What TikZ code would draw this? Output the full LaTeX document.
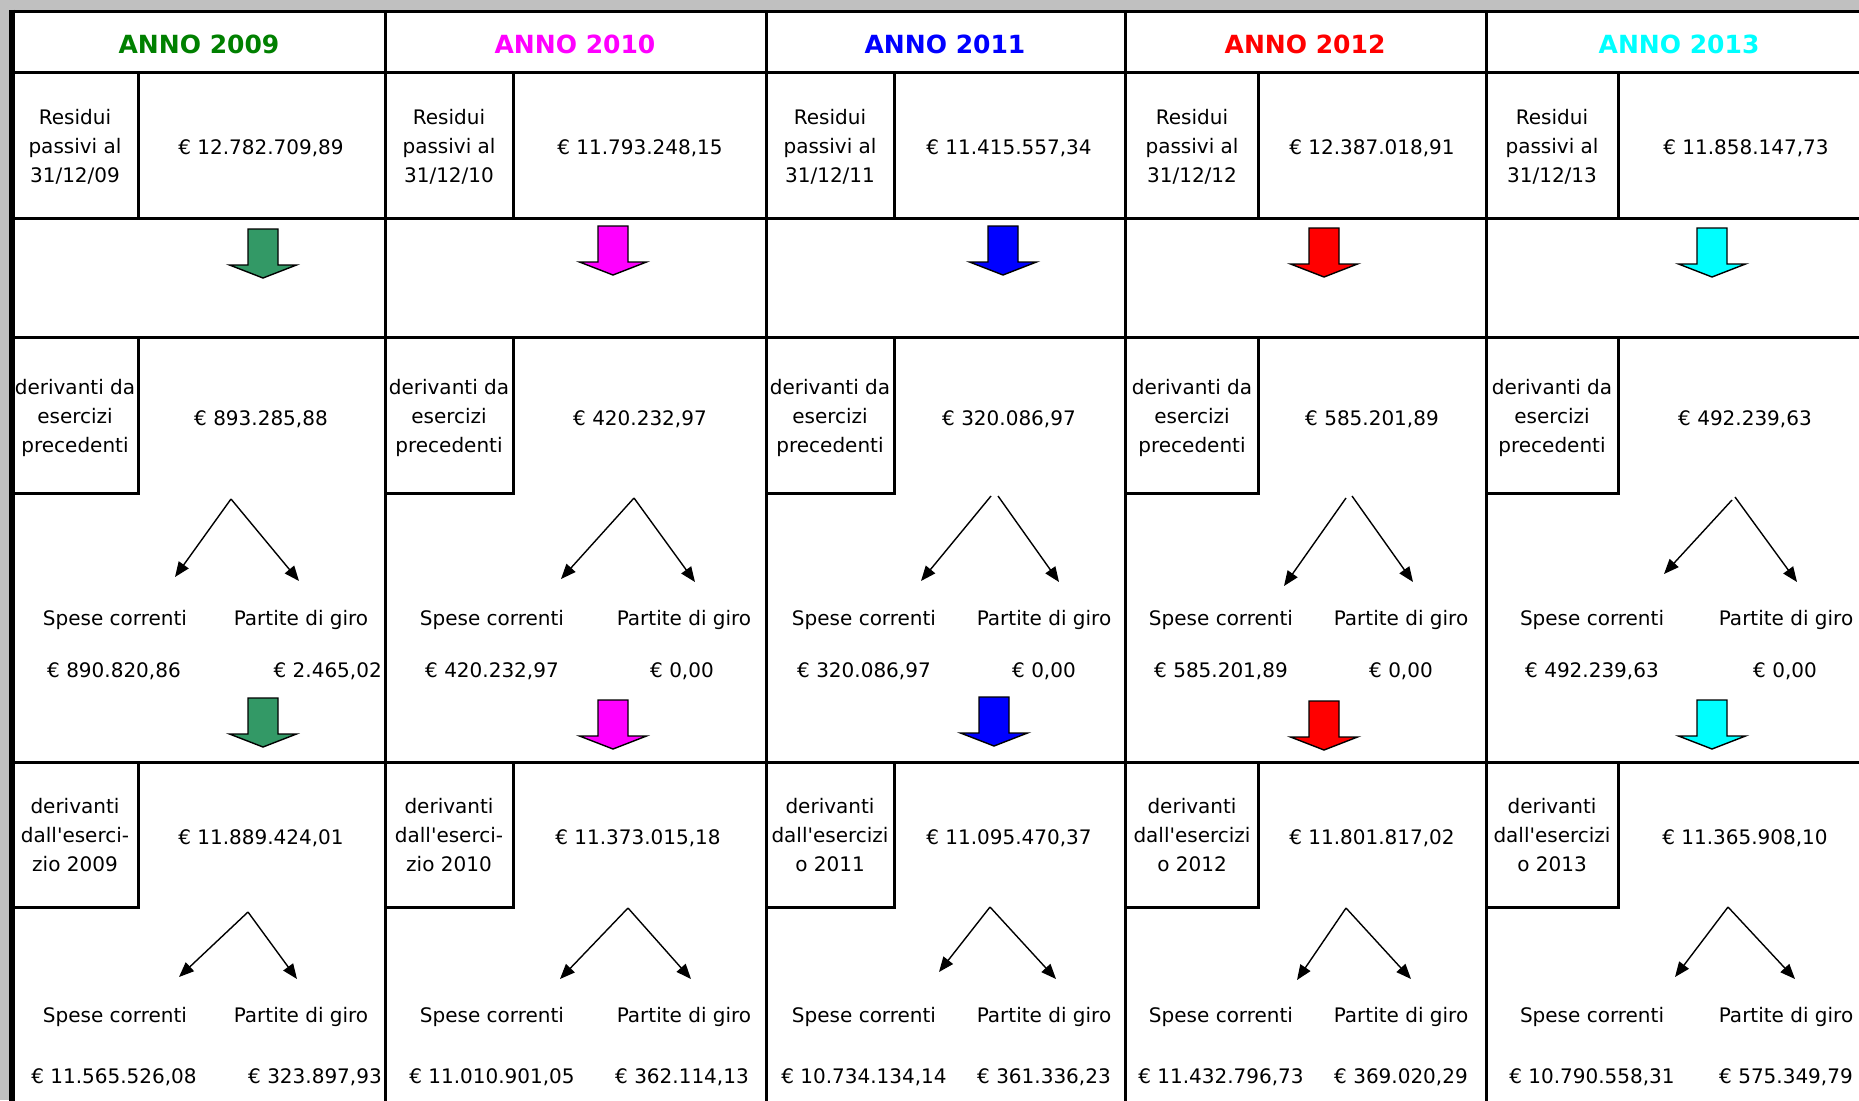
\documentclass[tikz,border=0pt]{standalone}
\usepackage{fontspec}
\setmainfont{DejaVu Sans}[Ligatures=TeXOff]
\usetikzlibrary{arrows.meta}
\definecolor{gr09}{RGB}{0,128,0}
\definecolor{ar09}{RGB}{51,153,102}
\definecolor{mag}{RGB}{255,0,255}
\definecolor{blu}{RGB}{0,0,255}
\definecolor{rd}{RGB}{255,0,0}
\definecolor{cy}{RGB}{0,255,255}
\definecolor{bggray}{RGB}{192,192,192}
\tikzset{
  tline/.style={line width=3pt, line join=miter},
  txt/.style={inner sep=0pt, font=\fontsize{20}{29}\selectfont, align=center},
  hdr/.style={inner sep=0pt, font=\fontsize{25}{30}\selectfont\bfseries, anchor=base},
  splitarr/.style={line width=1.4pt, -{Triangle[length=15pt,width=12pt]}},
  pics/blkarrow/.style={code={
    \draw[line width=1.4pt, line join=miter, fill=#1]
      (-15,0) -- (15,0) -- (15,36) -- (33.5,36) -- (0,49) -- (-33.5,36) -- (-15,36) -- cycle;}}
}
\begin{document}
\begin{tikzpicture}[x=1pt,y=-1pt]
\useasboundingbox (0,0) rectangle (1859,1100);
\fill[white] (0,0) rectangle (1859,1100);
\fill[bggray] (0,0) rectangle (1859,11);
\fill[bggray] (0,0) rectangle (12,1100);
% grid
\foreach \yy in {11,72,218,337,762} \draw[tline] (9,\yy) -- (1875,\yy);
\foreach \xx in {385,766,1125,1486} \draw[tline] (\xx,11) -- (\xx,1110);
\foreach \L/\I in {12/138,385/513,766/894,1125/1258,1486/1618} {
  \draw[tline] (\I,72) -- (\I,218);
  \draw[tline] (\I,337) -- (\I,493) -- (\L,493);
  \draw[tline] (\I,762) -- (\I,907) -- (\L,907);
}
\draw[line width=6pt] (12,9.5) -- (12,1110);

% ---------- 2009 ----------
\node[hdr, text=gr09] (h1) at (199,53) {ANNO 2009};
\node[txt] (la1) at (75,147) {Residui\\passivi al\\31/12/09};
\node[txt, anchor=base] (va1) at (261,154) {€ 12.782.709,89};
\pic (ba1) at (263,229) {blkarrow=ar09};
\node[txt] (lb1) at (75,418) {derivanti da\\esercizi\\precedenti};
\node[txt, anchor=base] (vb1) at (261,425) {€ 893.285,88};
\coordinate (ta1) at (231,499); \coordinate (tl1) at (175,577); \coordinate (tr1) at (299,581);
\draw[splitarr] (ta1) -- (tl1); \draw[splitarr] (ta1) -- (tr1);
\node[txt, anchor=base] (sa1) at (115,625) {Spese correnti};
\node[txt, anchor=base] (pa1) at (301,625) {Partite di giro};
\node[txt, anchor=base] (xa1) at (114,677) {€ 890.820,86};
\node[txt, anchor=base east] (ya1) at (382,677) {€ 2.465,02};
\pic (bb1) at (263,698) {blkarrow=ar09};
\node[txt] (lc1) at (75,835) {derivanti\\dall'eserci-\\zio 2009};
\node[txt, anchor=base] (vc1) at (261,844) {€ 11.889.424,01};
\coordinate (tb1) at (248,912); \coordinate (tm1) at (179,977); \coordinate (tn1) at (297,979);
\draw[splitarr] (tb1) -- (tm1); \draw[splitarr] (tb1) -- (tn1);
\node[txt, anchor=base] (sb1) at (115,1022) {Spese correnti};
\node[txt, anchor=base] (pb1) at (301,1022) {Partite di giro};
\node[txt, anchor=base] (xb1) at (114,1083) {€ 11.565.526,08};
\node[txt, anchor=base east] (yb1) at (382,1083) {€ 323.897,93};

% ---------- 2010 ----------
\node[hdr, text=mag] (h2) at (575,53) {ANNO 2010};
\node[txt] (la2) at (449,147) {Residui\\passivi al\\31/12/10};
\node[txt, anchor=base] (va2) at (640,154) {€ 11.793.248,15};
\pic (ba2) at (613,226) {blkarrow=mag};
\node[txt] (lb2) at (449,418) {derivanti da\\esercizi\\precedenti};
\node[txt, anchor=base] (vb2) at (640,425) {€ 420.232,97};
\coordinate (ta2) at (634,498); \coordinate (tl2) at (561,579); \coordinate (tr2) at (695,582);
\draw[splitarr] (ta2) -- (tl2); \draw[splitarr] (ta2) -- (tr2);
\node[txt, anchor=base] (sa2) at (492,625) {Spese correnti};
\node[txt, anchor=base] (pa2) at (684,625) {Partite di giro};
\node[txt, anchor=base] (xa2) at (492,677) {€ 420.232,97};
\node[txt, anchor=base] (ya2) at (682,677) {€ 0,00};
\pic (bb2) at (613,700) {blkarrow=mag};
\node[txt] (lc2) at (449,835) {derivanti\\dall'eserci-\\zio 2010};
\node[txt, anchor=base] (vc2) at (638,844) {€ 11.373.015,18};
\coordinate (tb2) at (628,908); \coordinate (tm2) at (560,979); \coordinate (tn2) at (691,979);
\draw[splitarr] (tb2) -- (tm2); \draw[splitarr] (tb2) -- (tn2);
\node[txt, anchor=base] (sb2) at (492,1022) {Spese correnti};
\node[txt, anchor=base] (pb2) at (684,1022) {Partite di giro};
\node[txt, anchor=base] (xb2) at (492,1083) {€ 11.010.901,05};
\node[txt, anchor=base] (yb2) at (682,1083) {€ 362.114,13};

% ---------- 2011 ----------
\node[hdr, text=blu] (h3) at (945,53) {ANNO 2011};
\node[txt] (la3) at (830,147) {Residui\\passivi al\\31/12/11};
\node[txt, anchor=base] (va3) at (1009,154) {€ 11.415.557,34};
\pic (ba3) at (1003,226) {blkarrow=blu};
\node[txt] (lb3) at (830,418) {derivanti da\\esercizi\\precedenti};
\node[txt, anchor=base] (vb3) at (1009,425) {€ 320.086,97};
\coordinate (ta3) at (991,496); \coordinate (tl3) at (921,581);
\coordinate (tc3) at (998,496); \coordinate (tr3) at (1059,582);
\draw[splitarr] (ta3) -- (tl3); \draw[splitarr] (tc3) -- (tr3);
\node[txt, anchor=base] (sa3) at (864,625) {Spese correnti};
\node[txt, anchor=base] (pa3) at (1044,625) {Partite di giro};
\node[txt, anchor=base] (xa3) at (864,677) {€ 320.086,97};
\node[txt, anchor=base] (ya3) at (1044,677) {€ 0,00};
\pic (bb3) at (994,697) {blkarrow=blu};
\node[txt] (lc3) at (830,835) {derivanti\\dall'esercizi\\o 2011};
\node[txt, anchor=base] (vc3) at (1009,844) {€ 11.095.470,37};
\coordinate (tb3) at (990,907); \coordinate (tm3) at (939,972); \coordinate (tn3) at (1056,979);
\draw[splitarr] (tb3) -- (tm3); \draw[splitarr] (tb3) -- (tn3);
\node[txt, anchor=base] (sb3) at (864,1022) {Spese correnti};
\node[txt, anchor=base] (pb3) at (1044,1022) {Partite di giro};
\node[txt, anchor=base] (xb3) at (864,1083) {€ 10.734.134,14};
\node[txt, anchor=base] (yb3) at (1044,1083) {€ 361.336,23};

% ---------- 2012 ----------
\node[hdr, text=rd] (h4) at (1305,53) {ANNO 2012};
\node[txt] (la4) at (1192,147) {Residui\\passivi al\\31/12/12};
\node[txt, anchor=base] (va4) at (1372,154) {€ 12.387.018,91};
\pic (ba4) at (1324,228) {blkarrow=rd};
\node[txt] (lb4) at (1192,418) {derivanti da\\esercizi\\precedenti};
\node[txt, anchor=base] (vb4) at (1372,425) {€ 585.201,89};
\coordinate (ta4) at (1346,498); \coordinate (tl4) at (1284,586);
\coordinate (tc4) at (1352,496); \coordinate (tr4) at (1413,582);
\draw[splitarr] (ta4) -- (tl4); \draw[splitarr] (tc4) -- (tr4);
\node[txt, anchor=base] (sa4) at (1221,625) {Spese correnti};
\node[txt, anchor=base] (pa4) at (1401,625) {Partite di giro};
\node[txt, anchor=base] (xa4) at (1221,677) {€ 585.201,89};
\node[txt, anchor=base] (ya4) at (1401,677) {€ 0,00};
\pic (bb4) at (1324,701) {blkarrow=rd};
\node[txt] (lc4) at (1192,835) {derivanti\\dall'esercizi\\o 2012};
\node[txt, anchor=base] (vc4) at (1372,844) {€ 11.801.817,02};
\coordinate (tb4) at (1346,908); \coordinate (tm4) at (1297,980); \coordinate (tn4) at (1411,979);
\draw[splitarr] (tb4) -- (tm4); \draw[splitarr] (tb4) -- (tn4);
\node[txt, anchor=base] (sb4) at (1221,1022) {Spese correnti};
\node[txt, anchor=base] (pb4) at (1401,1022) {Partite di giro};
\node[txt, anchor=base] (xb4) at (1221,1083) {€ 11.432.796,73};
\node[txt, anchor=base] (yb4) at (1401,1083) {€ 369.020,29};

% ---------- 2013 ----------
\node[hdr, text=cy] (h5) at (1679,53) {ANNO 2013};
\node[txt] (la5) at (1552,147) {Residui\\passivi al\\31/12/13};
\node[txt, anchor=base] (va5) at (1746,154) {€ 11.858.147,73};
\pic (ba5) at (1712,228) {blkarrow=cy};
\node[txt] (lb5) at (1552,418) {derivanti da\\esercizi\\precedenti};
\node[txt, anchor=base] (vb5) at (1745,425) {€ 492.239,63};
\coordinate (ta5) at (1732,500); \coordinate (tl5) at (1664,574);
\coordinate (tc5) at (1735,497); \coordinate (tr5) at (1797,582);
\draw[splitarr] (ta5) -- (tl5); \draw[splitarr] (tc5) -- (tr5);
\node[txt, anchor=base] (sa5) at (1592,625) {Spese correnti};
\node[txt, anchor=base] (pa5) at (1786,625) {Partite di giro};
\node[txt, anchor=base] (xa5) at (1592,677) {€ 492.239,63};
\node[txt, anchor=base] (ya5) at (1785,677) {€ 0,00};
\pic (bb5) at (1712,700) {blkarrow=cy};
\node[txt] (lc5) at (1552,835) {derivanti\\dall'esercizi\\o 2013};
\node[txt, anchor=base] (vc5) at (1745,844) {€ 11.365.908,10};
\coordinate (tb5) at (1728,907); \coordinate (tm5) at (1675,977); \coordinate (tn5) at (1795,979);
\draw[splitarr] (tb5) -- (tm5); \draw[splitarr] (tb5) -- (tn5);
\node[txt, anchor=base] (sb5) at (1592,1022) {Spese correnti};
\node[txt, anchor=base] (pb5) at (1786,1022) {Partite di giro};
\node[txt, anchor=base] (xb5) at (1592,1083) {€ 10.790.558,31};
\node[txt, anchor=base] (yb5) at (1786,1083) {€ 575.349,79};
\end{tikzpicture}
\end{document}
